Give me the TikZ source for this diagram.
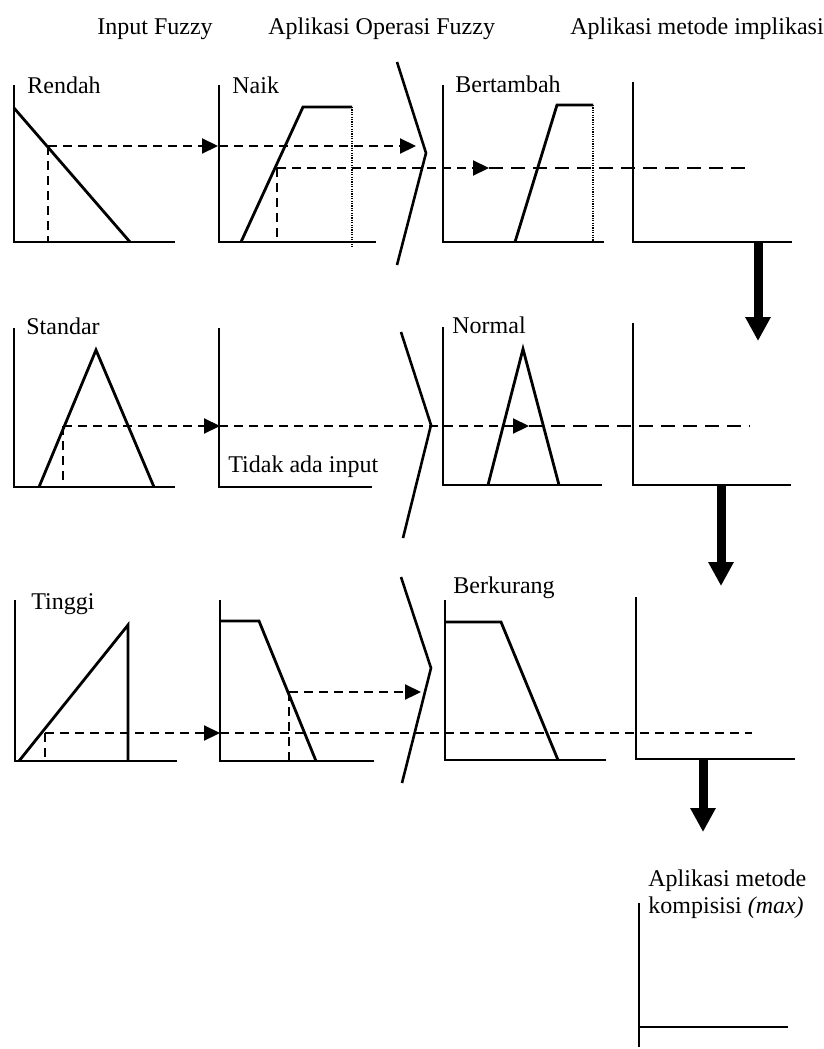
\documentclass[tikz,border=0pt]{standalone}
\usepackage{fontspec}
\setmainfont{Liberation Serif}
\usetikzlibrary{arrows.meta}
\begin{document}
\begin{tikzpicture}[x=0.5pt,y=-0.5pt,
 axis/.style={line width=1.25pt},
 mf/.style={line width=1.4pt, line join=miter},
 dsh/.style={line width=1.1pt, dash pattern=on 4.5pt off 3pt},
 ldsh/.style={line width=1.1pt, dash pattern=on 7pt off 4pt},
 dotv/.style={line width=0.6pt, dash pattern=on 0.6pt off 0.6pt},
 arr/.style={-{Triangle[length=8pt,width=7.5pt]}},
 big/.style={line width=4.5pt, -{Triangle[length=12pt,width=12pt]}},
 lbl/.style={font=\fontsize{12}{14}\selectfont, inner sep=0pt, anchor=base west},
 brk/.style={line width=1.3pt},
]
\useasboundingbox (0,0) rectangle (824,1049);

% headers
\node[lbl] (h1) at (97,34) {Input Fuzzy};
\node[lbl] (h2) at (268,34) {Aplikasi Operasi Fuzzy};
\node[lbl] (h3) at (570,34) {Aplikasi metode implikasi};

% ---------- Row 1 ----------
\draw[axis] (14,85) -- (14,242) -- (175,242);
\node[lbl] (rendah) at (27,93) {Rendah};
\draw[mf] (14,108) -- (130,242);
\draw[dsh] (48,146) -- (48,242);
\draw[dsh,arr] (48,146) -- (218,146);

\draw[axis] (219,85) -- (219,242) -- (376,242);
\node[lbl] (naik) at (232,93) {Naik};
\draw[mf] (241,242) -- (303,107) -- (352,107);
\draw[dotv] (352,107) -- (352,247);
\draw[dsh,arr] (219,146) -- (416,146);
\draw[dsh] (277,168) -- (277,242);
\draw[dsh,arr] (277,168) -- (489,168);
\draw[ldsh] (489,168) -- (747,168);

\draw[brk] (397,62) -- (426,153) -- (397,265);

\draw[axis] (443,85) -- (443,242) -- (604,242);
\node[lbl] (bertambah) at (455,92) {Bertambah};
\draw[mf] (515,242) -- (557,105) -- (593,105);
\draw[dotv] (593,105) -- (593,242);

\draw[axis] (633,82) -- (633,242) -- (792,242);
\draw[big] (758,242) -- (758,341);

% ---------- Row 2 ----------
\draw[axis] (14,328) -- (14,487) -- (175,487);
\node[lbl] (standar) at (26,334) {Standar};
\draw[mf] (39,487) -- (96,350) -- (154,487);
\draw[dsh] (63,426) -- (63,487);
\draw[dsh,arr] (63,426) -- (220,426);

\draw[axis] (219,328) -- (219,487) -- (372,487);
\node[lbl] (tidak) at (228,472) {Tidak ada input};
\draw[dsh,arr] (219,426) -- (529,426);
\draw[ldsh] (529,426) -- (750,426);

\draw[brk] (401,332) -- (431,425) -- (403,538);

\draw[axis] (443,327) -- (443,485) -- (602,485);
\node[lbl] (normal) at (452,333) {Normal};
\draw[mf] (488,485) -- (523,349) -- (559,485);

\draw[axis] (633,323) -- (633,485) -- (791,485);
\draw[big] (721,485) -- (721,586);

% ---------- Row 3 ----------
\draw[axis] (15,600) -- (15,761) -- (177,761);
\node[lbl] (tinggi) at (31,609) {Tinggi};
\draw[mf] (19,761) -- (128,625) -- (128,761);
\draw[dsh] (45,733) -- (45,761);
\draw[dsh,arr] (45,733) -- (220,733);

\draw[axis] (220,600) -- (220,761) -- (374,761);
\draw[mf] (220,621) -- (259,621) -- (316,761);
\draw[dsh] (289,692) -- (289,761);
\draw[dsh,arr] (289,692) -- (421,692);
\draw[dsh] (220,733) -- (752,733);

\draw[brk] (401,577) -- (431,668) -- (402,783);

\draw[axis] (445,600) -- (445,760) -- (606,760);
\node[lbl] (berkurang) at (453,593) {Berkurang};
\draw[mf] (445,622) -- (501,622) -- (558,760);

\draw[axis] (636,597) -- (636,759) -- (795,759);
\draw[big] (703,759) -- (703,832);

% ---------- Composition ----------
\node[lbl] (komp1) at (648,886) {Aplikasi metode};
\node[lbl] (komp2) at (648,913) {kompisisi \textit{(max)}};
\draw[axis] (639,903) -- (639,1047);
\draw[line width=0.6pt] (639,1027) -- (788,1027);
\end{tikzpicture}
\end{document}
